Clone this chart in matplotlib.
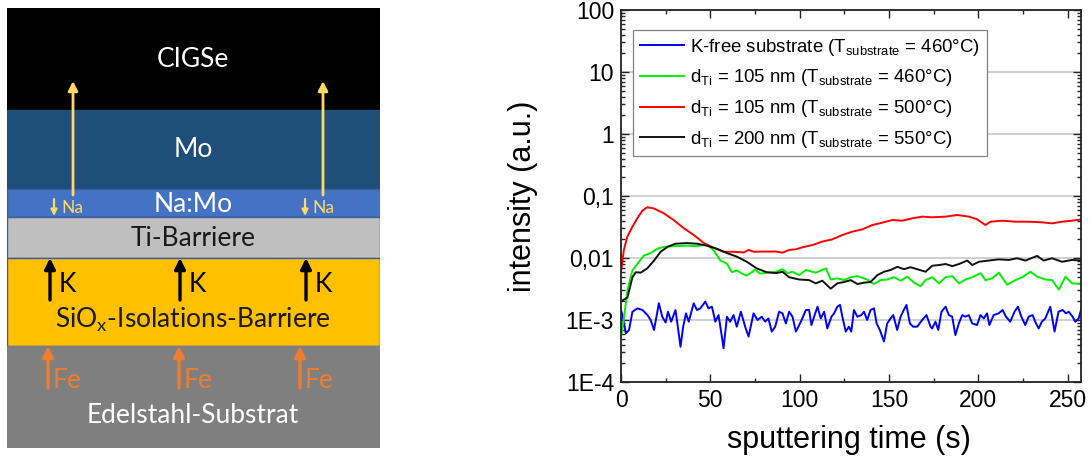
import matplotlib
matplotlib.use('Agg')
import matplotlib.pyplot as plt
from matplotlib.patches import Rectangle
from matplotlib.ticker import LogLocator, NullFormatter, MultipleLocator, FixedLocator

# ---------------- data ----------------
t_blue = [0, 0.8, 2.7, 4.5, 6.4, 9.2, 12, 14.8, 16.6, 18.5, 21.2, 23.1, 25, 26.3, 28.1, 30.5, 31.8, 33.3,
          34.8, 36.4, 37.9, 40.7, 42.5, 44.4, 47.2, 49, 50.9, 52.8, 54.6, 55.9, 57.4, 59.3, 61.1, 63,
          64.8, 67.1, 69.5, 71.4, 74.2, 76.4, 78.8, 80.7, 82.5, 84.4, 86.3, 88.5, 90.4, 92.3, 94.1, 96,
          97.9, 100.7, 103.5, 105.3, 106.6, 108.1, 110, 111.8, 113.7, 115.5, 117.8, 119.3, 121.1, 122.6,
          123.9, 125.8, 127.6, 128.9, 130.4, 132.3, 134.5, 136, 137.8, 139.7, 141.6, 143.1, 144.9, 147.2,
          149, 150.9, 152.4, 154.6, 156.5, 158.3, 159.8, 161.7, 163.5, 165.8, 168.6, 171, 173.3, 174.2,
          176, 177.6, 179.4, 181.7, 183.5, 185.4, 187.2, 189.1, 191, 192.8, 194.7, 196.6, 199.3, 201.2,
          203.1, 204.9, 206.2, 208.6, 211.4, 213.6, 215.5, 217.9, 220.3, 222.2, 224.1, 226.3, 228.2,
          230.4, 232.3, 233.8, 235.6, 237.5, 240.3, 242.7, 244.9, 247.2, 249.1, 250.6, 252.8, 254.3,
          256.2, 258]
blue = [1.45e-3, 1.2e-3, 0.61e-3, 0.69e-3, 1.36e-3, 1.54e-3, 1.45e-3, 1.20e-3, 1.00e-3, 0.69e-3, 1.86e-3,
        1.13e-3, 0.91e-3, 1.36e-3, 0.94e-3, 1.45e-3, 0.78e-3, 0.37e-3, 0.78e-3, 1.28e-3, 0.94e-3,
        1.86e-3, 1.45e-3, 1.54e-3, 1.98e-3, 1.54e-3, 1.64e-3, 0.94e-3, 1.20e-3, 0.69e-3, 0.35e-3,
        1.13e-3, 0.94e-3, 1.20e-3, 0.78e-3, 1.36e-3, 0.78e-3, 0.54e-3, 1.28e-3, 1.00e-3, 1.13e-3,
        0.94e-3, 1.06e-3, 0.65e-3, 0.78e-3, 1.36e-3, 1.28e-3, 0.88e-3, 1.36e-3, 1.13e-3, 0.65e-3,
        0.94e-3, 1.45e-3, 1.45e-3, 0.83e-3, 1.13e-3, 1.64e-3, 1.06e-3, 1.36e-3, 0.73e-3, 1.13e-3,
        1.28e-3, 1.64e-3, 1.75e-3, 1.13e-3, 0.65e-3, 0.78e-3, 0.65e-3, 1.45e-3, 1.13e-3, 1.20e-3,
        1.36e-3, 1.00e-3, 1.45e-3, 1.54e-3, 0.88e-3, 0.69e-3, 0.45e-3, 0.88e-3, 1.06e-3, 1.20e-3,
        0.69e-3, 1.13e-3, 1.45e-3, 1.75e-3, 0.88e-3, 0.78e-3, 0.78e-3, 1.00e-3, 1.20e-3, 0.78e-3,
        0.73e-3, 0.94e-3, 0.69e-3, 1.36e-3, 1.64e-3, 1.20e-3, 1.13e-3, 0.57e-3, 0.88e-3, 1.20e-3,
        1.13e-3, 1.20e-3, 0.88e-3, 0.83e-3, 1.20e-3, 1.06e-3, 1.28e-3, 0.83e-3, 1.20e-3, 1.28e-3,
        1.45e-3, 1.13e-3, 0.94e-3, 1.36e-3, 1.64e-3, 1.13e-3, 0.83e-3, 1.13e-3, 1.20e-3, 0.88e-3,
        0.73e-3, 0.94e-3, 1.06e-3, 1.64e-3, 0.65e-3, 1.36e-3, 1.45e-3, 1.28e-3, 1.36e-3, 1.13e-3,
        0.94e-3, 1.06e-3, 1.64e-3]

t_green = [0, 1.5, 3.6, 6.4, 9.2, 12.9, 16.6, 20.3, 24, 29.6, 37, 42.5, 48.1, 51.9, 55.6, 59.3, 62.1,
           64.9, 67.7, 70.4, 73.2, 75, 77.8, 81.5, 86.7, 90.4, 93.2, 96, 99.7, 103.5, 109, 114.7, 117.4,
           121.1, 124.9, 128.6, 132.3, 137.9, 141.6, 145.4, 149.1, 152.8, 156.5, 160.3, 164, 167.7,
           170.5, 174.2, 178, 181.7, 185.5, 189.2, 192.9, 196.6, 201.3, 204, 207.8, 211.5, 216.2, 220.8,
           224.6, 229.2, 233, 237.6, 241.3, 245.1, 248.8, 252.5, 258]
green = [0.00054, 0.0010, 0.0030, 0.0063, 0.0081, 0.0110, 0.0120, 0.0141, 0.0151, 0.0155, 0.0158, 0.0155,
         0.0166, 0.0132, 0.0091, 0.0081, 0.0059, 0.0063, 0.0056, 0.0052, 0.0059, 0.0065, 0.0056, 0.0058,
         0.0060, 0.0066, 0.0057, 0.0060, 0.0053, 0.0064, 0.0058, 0.0068, 0.0045, 0.0047, 0.0044, 0.0049,
         0.0051, 0.0045, 0.0038, 0.0044, 0.0045, 0.0049, 0.0043, 0.0050, 0.0040, 0.0035, 0.0044, 0.0049,
         0.0039, 0.0049, 0.0051, 0.0039, 0.0045, 0.0049, 0.0057, 0.0044, 0.0047, 0.0058, 0.0037, 0.0044,
         0.0049, 0.0060, 0.0050, 0.0045, 0.0044, 0.0031, 0.0050, 0.0039, 0.0038]

t_red = [0, 1.6, 3.5, 6.3, 9.1, 11.9, 14.7, 18.4, 24, 29.6, 35.2, 40.8, 46.4, 52, 57.5, 63.1, 68.7, 71.5,
         74.3, 79.9, 86.7, 90.4, 94.1, 97.9, 101.6, 107.2, 112.7, 118.3, 123.9, 129.5, 135.1, 140.7,
         146.2, 151.8, 157.4, 163, 168.6, 174.2, 181.7, 188.2, 194.7, 199.3, 202.1, 204, 206.8, 213.3,
         220.8, 228.2, 235.7, 241.3, 246.9, 252.5, 258]
red = [0.0060, 0.0135, 0.0219, 0.0316, 0.0437, 0.0575, 0.0660, 0.0630, 0.0525, 0.0407, 0.0302, 0.0234,
       0.0174, 0.0145, 0.0126, 0.0126, 0.0123, 0.0135, 0.0126, 0.0127, 0.0127, 0.0122, 0.0135, 0.0138,
       0.0149, 0.0162, 0.0184, 0.0200, 0.0235, 0.0266, 0.0290, 0.0340, 0.0371, 0.0410, 0.0400, 0.0436,
       0.0465, 0.0453, 0.0465, 0.0494, 0.0465, 0.0421, 0.0371, 0.0340, 0.0385, 0.0400, 0.0385, 0.0385,
       0.0376, 0.0362, 0.0385, 0.0400, 0.0421]

t_black = [0, 3.6, 6.4, 8.3, 11, 14.7, 18.5, 22.2, 26, 30.5, 37, 42.5, 48.1, 53.7, 59.3, 64.9, 70.4, 76,
           81.5, 86.7, 90.4, 94.1, 99.7, 105.3, 109, 112.7, 117.4, 121.1, 124.9, 128.6, 132.3, 136,
           139.7, 143.5, 147.2, 150.9, 154.7, 158.4, 162.1, 165.8, 170.5, 174.2, 178, 181.7, 185.5,
           189.2, 193.8, 196.6, 200.4, 205.9, 211.5, 217.1, 221.7, 226.4, 232.9, 236.6, 241.3, 246.9,
           252.5, 258]
black = [0.0020, 0.0023, 0.0049, 0.0059, 0.0058, 0.0068, 0.0091, 0.0126, 0.0151, 0.0170, 0.0174, 0.0170,
         0.0158, 0.0141, 0.0120, 0.0105, 0.0087, 0.0068, 0.0059, 0.0057, 0.0060, 0.0049, 0.0045, 0.0044,
         0.0039, 0.0043, 0.0032, 0.0039, 0.0041, 0.0044, 0.0038, 0.0040, 0.0041, 0.0053, 0.0060, 0.0064,
         0.0072, 0.0066, 0.0071, 0.0066, 0.0060, 0.0075, 0.0077, 0.0080, 0.0074, 0.0080, 0.0091, 0.0077,
         0.0087, 0.0091, 0.0095, 0.0093, 0.0099, 0.0091, 0.0108, 0.0091, 0.0099, 0.0087, 0.0093, 0.0091]

series_labels = [r'K-free substrate (T$\mathregular{_{substrate}}$ = 460°C)',
                 r'd$\mathregular{_{Ti}}$ = 105 nm (T$\mathregular{_{substrate}}$ = 460°C)',
                 r'd$\mathregular{_{Ti}}$ = 105 nm (T$\mathregular{_{substrate}}$ = 500°C)',
                 r'd$\mathregular{_{Ti}}$ = 200 nm (T$\mathregular{_{substrate}}$ = 550°C)']
series_colors = ['#0000FF', '#00F000', '#FF0000', '#111111']

ytick_vals = [1e-4, 1e-3, 1e-2, 1e-1, 1, 10, 100]
ytick_labels = ['1E-4', '1E-3', '0,01', '0,1', '1', '10', '100']
xtick_vals = [0, 50, 100, 150, 200, 250]

# schematic layers (top to bottom)
layer_names = ['CIGSe', 'Mo', 'Na:Mo', 'Ti-Barriere',
               r'SiO$\mathregular{_x}$-Isolations-Barriere', 'Edelstahl-Substrat']
layer_heights = [102, 79, 28, 41, 88, 102]
layer_colors = ['#000000', '#1F4E79', '#4472C4', '#BFBFBF', '#FFC000', '#7F7F7F']
layer_text_colors = ['white', 'white', 'white', '#1a1a1a', '#1a1a1a', 'white']
layer_font_sizes = [19, 19, 19, 19, 19, 19]

W, H = 1091, 465
fig = plt.figure(figsize=(W / 100, H / 100), dpi=100)

# ---------------- left: layer schematic ----------------
sfont = 'Lato'
ax0 = fig.add_axes([7 / W, (H - 448) / H, 373 / W, 440 / H])
total = sum(layer_heights)
ax0.set_xlim(0, 373)
ax0.set_ylim(total, 0)
ax0.axis('off')
y = 0
for name, h, c in zip(layer_names, layer_heights, layer_colors):
    edge = '#3A5F9A' if c in ('#4472C4', '#BFBFBF', '#FFC000') else c
    ax0.add_patch(Rectangle((0, y), 373, h, facecolor=c, edgecolor=edge, lw=1.0))
    y += h

label_y = [52, 142, 196, 231, 312, 407]
for name, ly, tc, fs in zip(layer_names, label_y, layer_text_colors, layer_font_sizes):
    ax0.text(186, ly, name, color=tc, fontsize=fs, family=sfont, ha='center', va='center')


def arrow(x, y0, y1, color, lw, ms):
    ax0.annotate('', xy=(x, y1), xytext=(x, y0),
                 arrowprops=dict(arrowstyle='-|>', color=color, lw=lw, mutation_scale=ms,
                                 shrinkA=0, shrinkB=0))


na_col = '#FFD966'
for x in (66, 316):
    arrow(x, 187, 73, na_col, 2.0, 14)
for x in (47, 298):
    arrow(x, 191, 208, na_col, 1.6, 9)
    ax0.text(x + 7, 200, 'Na', color=na_col, fontsize=12.5, family=sfont, ha='left', va='center')
for x in (43, 173, 299):
    arrow(x, 292, 250, 'black', 2.4, 16)
    ax0.text(x + 9, 277, 'K', color='black', fontsize=19, family=sfont, ha='left', va='center')
fe_col = '#ED7D31'
for x in (41, 172, 293):
    arrow(x, 380, 338, fe_col, 2.4, 16)
    ax0.text(x + 5, 372, 'Fe', color=fe_col, fontsize=19, family=sfont, ha='left', va='center')

# ---------------- right: SIMS-like plot ----------------
pfont = 'Liberation Sans'
ax = fig.add_axes([621 / W, (H - 382) / H, 460 / W, 372 / H])
for tt, vv, lab, col in zip([t_blue, t_green, t_red, t_black], [blue, green, red, black],
                            series_labels, series_colors):
    ax.plot(tt, vv, color=col, lw=1.4, label=lab)

ax.set_yscale('log')
ax.set_ylim(1e-4, 100)
ax.set_xlim(0, 257.5)
ax.yaxis.set_major_locator(FixedLocator(ytick_vals))
ax.set_yticklabels(ytick_labels)
ax.yaxis.set_minor_locator(LogLocator(base=10, subs=range(2, 10), numticks=20))
ax.yaxis.set_minor_formatter(NullFormatter())
ax.set_xticks(xtick_vals)
ax.xaxis.set_minor_locator(MultipleLocator(25))
ax.grid(axis='y', which='major', color='#C8C8C8', lw=1.2)
ax.set_axisbelow(True)
ax.tick_params(which='both', direction='in', top=True, right=True, width=1.0, color='#222222')
ax.tick_params(which='major', length=6, labelsize=16.5, pad=5)
ax.tick_params(which='minor', length=3)
for lab in ax.get_xticklabels() + ax.get_yticklabels():
    lab.set_family(pfont)
for s in ax.spines.values():
    s.set_linewidth(1.3)
    s.set_color('#222222')

ax.set_ylabel('intensity (a.u.)', fontsize=22, family=pfont)
ax.set_xlabel('sputtering time (s)', fontsize=22, family=pfont)
ax.yaxis.set_label_coords(-0.18, 0.5)
ax.xaxis.set_label_coords(0.496, -0.116)

leg = ax.legend(loc='upper left', bbox_to_anchor=((633 - 621) / 460, 1 - (30 - 10) / 372),
                borderaxespad=0, fancybox=False, framealpha=1, edgecolor='#808080',
                prop={'family': pfont, 'size': 13.4}, handlelength=2.4, handletextpad=0.3,
                labelspacing=0.52, borderpad=0.36)
leg.get_frame().set_linewidth(0.9)

fig.savefig('out.png', dpi=100)
